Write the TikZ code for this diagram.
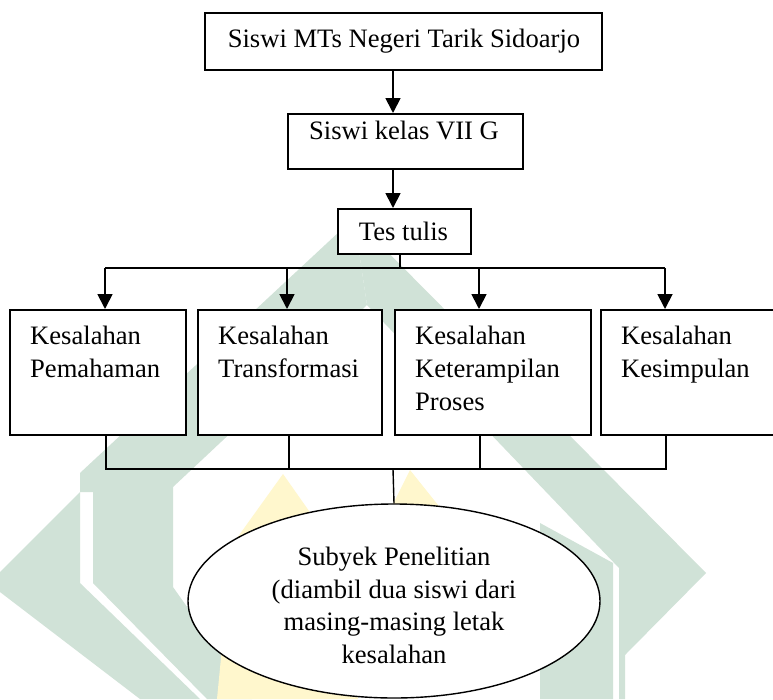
\documentclass[tikz,border=0pt]{standalone}
\usepackage{fontspec}
\setmainfont{Liberation Serif}
\usetikzlibrary{arrows.meta,shapes.geometric}
\definecolor{wmgreen}{RGB}{208,226,215}
\definecolor{wmyellow}{RGB}{255,247,205}
\newcommand{\dfont}{\fontsize{26.6}{33}\selectfont}
\tikzset{
  box/.style={draw, line width=1.8pt, fill=white, inner sep=0pt, anchor=north west},
  txt/.style={inner sep=0pt, font=\dfont, anchor=base west},
  ctxt/.style={inner sep=0pt, font=\dfont, anchor=base},
  arr/.style={line width=1.8pt, -{Triangle[length=15pt,width=15pt]}},
  ln/.style={line width=1.4pt},
  wm/.style={fill=wmgreen, draw=none},
  wmy/.style={fill=wmyellow, draw=none}
}
\begin{document}
\begin{tikzpicture}[x=1pt,y=-1pt]
\path[use as bounding box, clip] (0,0) rectangle (773,699);
\fill[white] (0,0) rectangle (773,699);
% watermark
\path[wm] (80,492) -- (0,572) -- (0,592) -- (140,699) -- (200,699) -- (80,583) -- cycle;
\path[wm] (354,218) -- (367,305) -- (173,487) -- (173,587) -- (252,699) -- (207,699) -- (93,583) -- (93,492) -- (80,492) -- (80,473) -- cycle;
\path[wm] (354,218) -- (706,573) -- (625,655) -- (625,699) -- (619,699) -- (619,568) -- (367,305) -- cycle;
\path[wm] (540,523) -- (613,563) -- (613,699) -- (540,699) -- cycle;
\path[wmy] (283,474) -- (333,545) -- (358,699) -- (217,699) -- (232,545) -- cycle;
\path[wmy] (410,470) -- (458,530) -- (458,610) -- (394,610) -- (380,530) -- cycle;
% boxes
\node[box, minimum width=397pt, minimum height=57pt] (top) at (204,12) {};
\node[ctxt] (toptxt) at (404,47) {Siswi MTs Negeri Tarik Sidoarjo};
\node[box, minimum width=235pt, minimum height=55pt] (kelas) at (287,113) {};
\node[ctxt] (kelastxt) at (404,139) {Siswi kelas VII G};
\node[box, minimum width=133pt, minimum height=45pt] (tes) at (337,208) {};
\node[ctxt] (testxt) at (403.5,240) {Tes tulis};
\node[box, minimum width=176pt, minimum height=125pt] (ka) at (9,309) {};
\node[box, minimum width=184pt, minimum height=125pt] (kb) at (197,309) {};
\node[box, minimum width=196pt, minimum height=125pt] (kc) at (394,309) {};
\node[box, minimum width=190pt, minimum height=125pt] (kd) at (600,309) {};
\node[txt] (ta1) at (30,344) {Kesalahan};
\node[txt] (ta2) at (30,377) {Pemahaman};
\node[txt] (tb1) at (218,344) {Kesalahan};
\node[txt] (tb2) at (218,377) {Transformasi};
\node[txt] (tc1) at (415,344) {Kesalahan};
\node[txt] (tc2) at (415,377) {Keterampilan};
\node[txt] (tc3) at (415,410) {Proses};
\node[txt] (td1) at (621,344) {Kesalahan};
\node[txt] (td2) at (621,377) {Kesimpulan};
% ellipse
\node[draw, line width=1.4pt, fill=white, ellipse, minimum width=412pt, minimum height=194pt, inner sep=0pt] (subj) at (394,601) {};
\node[ctxt] (s1) at (394,565) {Subyek Penelitian};
\node[ctxt] (s2) at (394,598) {(diambil dua siswi dari};
\node[ctxt] (s3) at (394,630) {masing-masing letak};
\node[ctxt] (s4) at (394,663) {kesalahan};
% connectors
\coordinate (bar) at (400,268);
\draw[arr] (top.south -| 393,0) -- (kelas.north -| 393,0);
\draw[arr] (kelas.south -| 393,0) -- (tes.north -| 393,0);
\draw[line width=1.8pt] (tes.south -| bar) -- (bar);
\draw[line width=1.8pt] (105,268) -- (665,268);
\draw[arr] (105,268) -- (ka.north -| 105,0);
\draw[arr] (287,268) -- (kb.north -| 287,0);
\draw[arr] (479,268) -- (kc.north -| 479,0);
\draw[arr] (665,268) -- (kd.north -| 665,0);
\draw[ln] (ka.south -| 106,0) -- (106,469) -- (666,469) -- (kd.south -| 666,0);
\draw[ln] (kb.south -| 289,0) -- (289,469);
\draw[ln] (kc.south -| 480,0) -- (480,469);
\draw[ln] (393,469) -- (subj.north);
\end{tikzpicture}
\end{document}
